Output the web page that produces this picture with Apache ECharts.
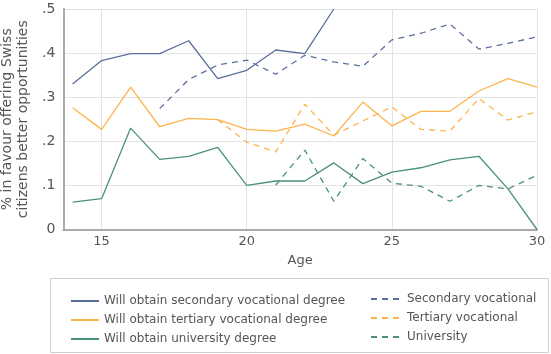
<!DOCTYPE html>
<html style="height: 100%">
<head>
<meta charset="utf-8">
<script src="https://cdn.jsdelivr.net/npm/echarts@6/dist/echarts.min.js"></script>
</head>
<body style="height: 100%; margin: 0; background: #fff;">
<div id="container" style="width: 551px; height: 354px"></div>
<script type="text/javascript">
var ages = [14, 15, 16, 17, 18, 19, 20, 21, 22, 23, 24, 25, 26, 27, 28, 29, 30];

// solid: expected degree
var willSecondary = [0.330, 0.383, 0.399, 0.399, 0.428, 0.342, 0.361, 0.407, 0.399, 0.500, null, null, null, null, null, null, null];
var willTertiary  = [0.276, 0.227, 0.323, 0.233, 0.252, 0.249, 0.227, 0.223, 0.239, 0.212, 0.289, 0.235, 0.268, 0.268, 0.314, 0.342, 0.323];
var willUniv      = [0.062, 0.070, 0.230, 0.159, 0.166, 0.186, 0.100, 0.110, 0.110, 0.151, 0.104, 0.130, 0.140, 0.158, 0.166, 0.092, 0.000];

// dashed: obtained degree
var secondary = [null, null, null, 0.274, 0.340, 0.373, 0.384, 0.352, 0.395, 0.380, 0.370, 0.430, 0.445, 0.466, 0.409, 0.422, 0.437];
var tertiary  = [null, null, null, null, null, 0.249, 0.198, 0.176, 0.284, 0.214, 0.246, 0.278, 0.227, 0.223, 0.297, 0.248, 0.267];
var univ      = [null, null, null, null, null, null, null, 0.101, 0.180, 0.064, 0.161, 0.105, 0.098, 0.064, 0.100, 0.092, 0.123];

var names = ['Will obtain secondary vocational degree', 'Will obtain tertiary vocational degree',
             'Will obtain university degree', 'Secondary vocational', 'Tertiary vocational', 'University'];
var colors = ['#5a6f9c', '#fdb44e', '#4b9275'];

function pairs(vals) {
    var out = [];
    for (var i = 0; i < ages.length; i++) {
        if (vals[i] !== null) out.push([ages[i], vals[i]]);
    }
    return out;
}

function line(name, vals, color, dashed) {
    return {
        name: name,
        type: 'line',
        data: pairs(vals),
        symbol: 'none',
        silent: true,
        lineStyle: { color: color, width: 1.3, type: dashed ? [6, 5] : 'solid' },
        itemStyle: { color: color }
    };
}

var myChart = echarts.init(document.getElementById('container'));
var legendText = { fontFamily: 'DejaVu Sans', color: '#555', fontSize: 12 };

var option = {
    animation: false,
    grid: { left: 63.3, right: 14, top: 9, bottom: 124.5, containLabel: false, outerBoundsMode: 'none' },
    xAxis: {
        type: 'value',
        min: 13.68, max: 30,
        splitNumber: 3,
        name: 'Age',
        nameLocation: 'middle',
        nameGap: 25,
        nameTextStyle: { fontFamily: 'DejaVu Sans', color: '#555', fontSize: 13 },
        axisLine: { lineStyle: { color: '#aaa', width: 2 } },
        axisTick: { show: false },
        axisLabel: {
            fontFamily: 'DejaVu Sans', color: '#555', fontSize: 13, margin: 6,
            formatter: function (v) { return v % 5 === 0 ? String(v) : ''; }
        },
        splitLine: { lineStyle: { color: '#e3e3e3', width: 1 } }
    },
    yAxis: {
        type: 'value',
        min: 0, max: 0.5, interval: 0.1,
        name: '% in favour offering Swiss\ncitizens better opportunities',
        nameLocation: 'middle',
        nameGap: 22,
        nameTextStyle: { fontFamily: 'DejaVu Sans', color: '#555', fontSize: 14, lineHeight: 16 },
        axisLine: { show: true, lineStyle: { color: '#aaa', width: 2 } },
        axisTick: { show: false },
        axisLabel: {
            fontFamily: 'DejaVu Sans', color: '#555', fontSize: 14, margin: 8,
            formatter: function (v) { return v === 0 ? '0' : v.toFixed(1).replace(/^0/, ''); }
        },
        splitLine: { lineStyle: { color: '#e3e3e3', width: 1 } }
    },
    legend: [{
        data: names.slice(0, 3),
        orient: 'vertical',
        left: 65, top: 290,
        itemWidth: 28, itemHeight: 10, itemGap: 7,
        itemStyle: { opacity: 0 },
        textStyle: legendText
    }, {
        data: names.slice(3),
        orient: 'vertical',
        left: 365, top: 288,
        itemWidth: 31, itemHeight: 10, itemGap: 7,
        itemStyle: { opacity: 0 },
        textStyle: legendText
    }],
    graphic: [{
        type: 'rect',
        shape: { x: 50.5, y: 278.5, width: 498, height: 74 },
        style: { fill: 'none', stroke: '#cfcfcf', lineWidth: 1 },
        silent: true
    }],
    series: [
        line(names[0], willSecondary, colors[0], false),
        line(names[1], willTertiary, colors[1], false),
        line(names[2], willUniv, colors[2], false),
        line(names[3], secondary, colors[0], true),
        line(names[4], tertiary, colors[1], true),
        line(names[5], univ, colors[2], true)
    ]
};

myChart.setOption(option);
</script>
</body>
</html>
